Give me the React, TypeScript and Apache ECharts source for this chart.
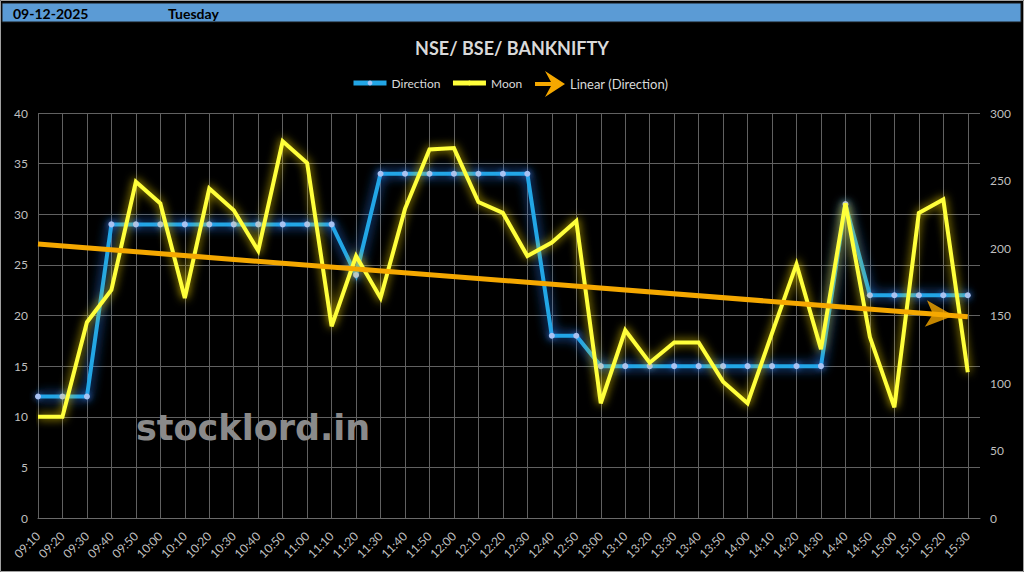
import React, { useEffect, useRef } from "react";
import * as echarts from "echarts";

const dateText = "09-12-2025";
const dayText = "Tuesday";
const titleText = "NSE/ BSE/ BANKNIFTY";
const watermarkText = "stocklord.in";

const times = [
  "09:10", "09:20", "09:30", "09:40", "09:50", "10:00", "10:10", "10:20", "10:30", "10:40",
  "10:50", "11:00", "11:10", "11:20", "11:30", "11:40", "11:50", "12:00", "12:10", "12:20",
  "12:30", "12:40", "12:50", "13:00", "13:10", "13:20", "13:30", "13:40", "13:50", "14:00",
  "14:10", "14:20", "14:30", "14:40", "14:50", "15:00", "15:10", "15:20", "15:30",
];

const direction = [
  12, 12, 12, 29, 29, 29, 29, 29, 29, 29,
  29, 29, 29, 24, 34, 34, 34, 34, 34, 34,
  34, 18, 18, 15, 15, 15, 15, 15, 15, 15,
  15, 15, 15, 31, 22, 22, 22, 22, 22,
];

const moon = [
  75, 75, 145, 169, 249, 233, 163, 244, 228, 198,
  279, 263, 142, 194, 163, 229, 273, 274, 234, 226,
  194, 204, 220, 85, 139, 115, 130, 130, 101, 85,
  137, 188, 125, 233, 134, 82, 226, 236, 108,
];

const FONT = "Lato, 'Liberation Sans', Arial, sans-serif";
const ORANGE = "#f5a800";
const BLUE = "#22a6e6";
const YELLOW = "#ffff3a";

function linearFit(ys: number[]) {
  const n = ys.length;
  const mx = (n - 1) / 2;
  const my = ys.reduce((a, b) => a + b, 0) / n;
  let sxy = 0;
  let sxx = 0;
  ys.forEach((y, i) => {
    sxy += (i - mx) * (y - my);
    sxx += (i - mx) * (i - mx);
  });
  const slope = sxy / sxx;
  return { slope, intercept: my - slope * mx };
}

export default function App() {
  const ref = useRef<HTMLDivElement>(null);

  useEffect(() => {
    document.body.style.margin = "0";
    document.body.style.background = "#000";
    if (!ref.current) return;
    const chart = echarts.init(ref.current, null, { renderer: "svg" });

    const fit = linearFit(direction);
    const last = times.length - 1;
    const t0 = fit.intercept;
    const t1 = fit.intercept + fit.slope * last;

    const arrowSize = [20, 28];

    const option: any = {
      animation: false,
      backgroundColor: "#000",
      textStyle: { fontFamily: FONT },
      title: {
        text: titleText,
        left: "center",
        top: 34,
        textStyle: { color: "#d9d9d9", fontSize: 18, fontWeight: "bold", fontFamily: FONT },
      },
      legend: [
        {
          data: [
            { name: "Direction", itemStyle: { color: "#a9c2f2" } },
            { name: "Moon", itemStyle: { color: YELLOW } },
          ],
          left: 346,
          top: 72,
          itemWidth: 33,
          itemHeight: 6,
          itemGap: 10,
          lineStyle: { width: 5 },
          textStyle: { color: "#d9d9d9", fontSize: 12, fontFamily: FONT },
        },
        {
          data: [
            {
              name: "Linear (Direction)",
              icon: "path://M0,11L16,11L10,0L30,13L10,26L16,15L0,15Z",
              itemStyle: { color: ORANGE },
            },
          ],
          left: 530,
          top: 66,
          itemWidth: 30,
          itemHeight: 26,
          textStyle: { color: "#d9d9d9", fontSize: 13, fontFamily: FONT },
        },
      ],
      grid: { left: 38, right: 44, top: 113, bottom: 54 },
      xAxis: {
        type: "value",
        min: 0,
        max: last + 0.5,
        interval: 1,
        axisLine: { show: true, lineStyle: { color: "#6a6a6a", width: 1 } },
        axisTick: { show: false },
        splitLine: { show: true, showMaxLine: false, lineStyle: { color: "#616161", width: 1 } },
        axisLabel: {
          rotate: 45,
          color: "#bfbfbf",
          fontSize: 12,
          fontFamily: FONT,
          margin: 16,
          showMaxLabel: false,
          formatter: (v: number) => (Number.isInteger(v) && times[v] ? times[v] : ""),
        },
      },
      yAxis: [
        {
          type: "value",
          min: 0,
          max: 40,
          interval: 5,
          position: "left",
          axisLine: { show: false },
          axisTick: { show: false },
          splitLine: { show: true, lineStyle: { color: "#616161", width: 1 } },
          axisLabel: { color: "#bfbfbf", fontSize: 12, fontFamily: FONT, margin: 10 },
        },
        {
          type: "value",
          min: 0,
          max: 300,
          interval: 50,
          position: "right",
          axisLine: { show: false },
          axisTick: { show: false },
          splitLine: { show: false },
          axisLabel: { color: "#bfbfbf", fontSize: 12, fontFamily: FONT, margin: 10 },
        },
      ],
      graphic: [
        {
          type: "rect",
          silent: true,
          z: 100,
          shape: { x: 0.5, y: 0.5, width: 1023, height: 571 },
          style: { fill: "none", stroke: "#a0a0a0", lineWidth: 1 },
        },
        {
          type: "rect",
          silent: true,
          z: 100,
          shape: { x: 2, y: 3, width: 1019, height: 19 },
          style: { fill: "#5b9bd5", stroke: "#1a1a1a", lineWidth: 1 },
        },
        {
          type: "text",
          silent: true,
          z: 101,
          x: 13,
          y: 13,
          style: {
            text: dateText,
            fill: "#000",
            fontSize: 14,
            fontWeight: "bold",
            fontFamily: FONT,
            verticalAlign: "middle",
          },
        },
        {
          type: "text",
          silent: true,
          z: 101,
          x: 168,
          y: 13,
          style: {
            text: dayText,
            fill: "#000",
            fontSize: 14,
            fontWeight: "bold",
            fontFamily: FONT,
            verticalAlign: "middle",
          },
        },
        {
          type: "text",
          silent: true,
          z: 1,
          x: 136,
          y: 428,
          style: {
            text: watermarkText,
            fill: "#8a8a8a",
            fontSize: 35,
            fontWeight: "bold",
            fontFamily: "'DejaVu Sans', sans-serif",
            verticalAlign: "middle",
          },
        },
      ],
      series: [
        {
          name: "Direction",
          type: "line",
          yAxisIndex: 0,
          data: times.map((_, i) => [i, direction[i]]),
          symbol: "circle",
          symbolSize: 6,
          showAllSymbol: true,
          color: BLUE,
          lineStyle: {
            color: BLUE,
            width: 4,
            join: "miter",
            shadowColor: "rgba(40,130,255,1)",
            shadowBlur: 12,
          },
          itemStyle: {
            color: "#a9c2f2",
            shadowColor: "rgba(60,140,255,0.9)",
            shadowBlur: 6,
          },
          emphasis: { disabled: true },
          z: 2,
        },
        {
          name: "Moon",
          type: "line",
          yAxisIndex: 1,
          data: times.map((_, i) => [i, moon[i]]),
          symbol: "none",
          color: YELLOW,
          lineStyle: {
            color: YELLOW,
            width: 4,
            join: "miter",
            shadowColor: "rgba(255,225,0,0.9)",
            shadowBlur: 10,
          },
          emphasis: { disabled: true },
          z: 3,
        },
        {
          id: "trendLine",
          name: "Linear (Direction)",
          type: "line",
          yAxisIndex: 0,
          data: [
            [0, t0],
            [last, t1],
          ],
          symbol: "none",
          color: ORANGE,
          lineStyle: { color: ORANGE, width: 5 },
          emphasis: { disabled: true },
          z: 4,
        },
        {
          id: "trendArrow",
          name: "Linear (Direction)",
          type: "scatter",
          yAxisIndex: 0,
          data: [[last, t1]],
          symbol: "arrow",
          symbolSize: arrowSize,
          symbolRotate: -94,
          itemStyle: { color: ORANGE },
          emphasis: { disabled: true },
          silent: true,
          z: 5,
        },
      ],
    };

    chart.setOption(option);

    const p0 = chart.convertToPixel({ xAxisIndex: 0, yAxisIndex: 0 }, [0, t0]) as number[];
    const p1 = chart.convertToPixel({ xAxisIndex: 0, yAxisIndex: 0 }, [last, t1]) as number[];
    if (p0 && p1) {
      const dx = p1[0] - p0[0];
      const dy = p1[1] - p0[1];
      const len = Math.hypot(dx, dy) || 1;
      const ux = dx / len;
      const uy = dy / len;
      const angle = (Math.atan2(dy, dx) * 180) / Math.PI;
      const half = arrowSize[1] / 2;
      chart.setOption({
        series: [
          {
            id: "trendArrow",
            symbolRotate: -90 - angle,
            symbolOffset: [-ux * half, -uy * half],
          },
        ],
      });
    }

    return () => chart.dispose();
  }, []);

  return <div ref={ref} style={{ width: 1024, height: 572 }} />;
}
